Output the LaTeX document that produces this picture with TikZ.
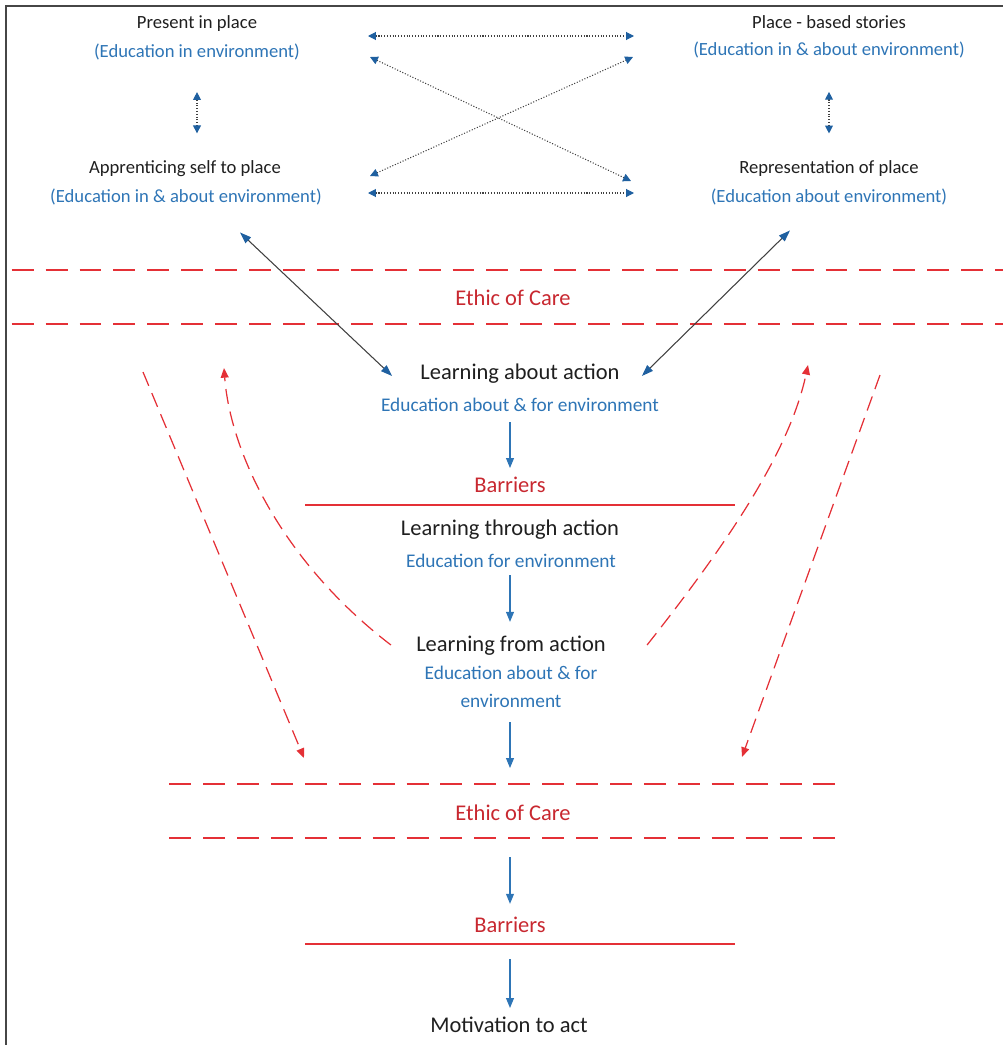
\documentclass[tikz,border=0pt]{standalone}
\usepackage{fontspec}
\setmainfont{Carlito}
\usepackage{xcolor}
\usetikzlibrary{arrows.meta,calc}

\definecolor{eduBlue}{RGB}{46,117,182}
\definecolor{headBlue}{RGB}{31,96,160}
\definecolor{careRed}{RGB}{200,40,48}
\definecolor{dashRed}{RGB}{228,48,54}
\definecolor{frameGray}{RGB}{70,70,70}

\tikzset{
  toptext/.style={font=\fontsize{10.6}{13}\selectfont, inner sep=0pt, text=black!88},
  topsub/.style={toptext, text=eduBlue},
  maintext/.style={font=\fontsize{12.8}{15}\selectfont, inner sep=0pt, text=black!88},
  subtext/.style={font=\fontsize{11}{16}\selectfont, inner sep=0pt, text=eduBlue, align=center},
  redtext/.style={font=\fontsize{12.8}{15}\selectfont, inner sep=0pt, text=careRed},
  bandbox/.style={inner sep=0pt, minimum height=30.5pt},
  carebar/.style={draw=dashRed, dash pattern=on 12.5pt off 6.8pt, line width=1.3pt},
  barline/.style={draw=dashRed, line width=0.9pt},
  flow/.style={-{Triangle[length=5.7pt,width=4.5pt]}, draw=eduBlue, line width=0.7pt},
  dotlink/.style={{Triangle[length=4.5pt,width=4.5pt,color=headBlue]}-{Triangle[length=4.5pt,width=4.5pt,color=headBlue]}, densely dotted, draw=black!75, line width=0.6pt},
  solidlink/.style={{Triangle[length=6.5pt,width=4.5pt,color=headBlue]}-{Triangle[length=6.5pt,width=4.5pt,color=headBlue]}, draw=black!75, line width=0.6pt},
  backloop/.style={-{Triangle[length=5.5pt,width=4.5pt]}, draw=dashRed, dash pattern=on 8.5pt off 4.5pt, line width=0.7pt}
}

\begin{document}
\begin{tikzpicture}[x=0.02cm, y=-0.02cm]
\useasboundingbox (0,0) rectangle (1003,1045);
% frame
\draw[frameGray, line width=1.3pt] (6,1045) -- (6,6) -- (1003,6);

% place blocks
\node[toptext] (present) at (197,24) {Present in place};
\node[topsub] (presentsub) at (197,52) {(Education in environment)};
\node[toptext] (apprent) at (185,169) {Apprenticing self to place};
\node[topsub] (apprentsub) at (186,197) {(Education in \& about environment)};
\node[toptext] (stories) at (829,22) {Place - based stories};
\node[topsub] (storiessub) at (829,50) {(Education in \& about environment)};
\node[toptext] (repr) at (829,169) {Representation of place};
\node[topsub] (reprsub) at (829,197) {(Education about environment)};

% links between the place blocks
\draw[dotlink, shorten <=18pt, shorten >=15.5pt] (presentsub.south) -- (presentsub.south |- apprent.north);
\draw[dotlink, shorten <=19pt, shorten >=15.5pt] (storiessub.south) -- (storiessub.south |- repr.north);
\coordinate (crossTL) at (368,36);
\coordinate (crossTR) at (634,36);
\coordinate (crossBL) at (368,193);
\coordinate (crossBR) at (634,193);
\coordinate (diagTL) at (370,57);
\coordinate (diagTR) at (633,57);
\coordinate (diagBL) at (370,176);
\coordinate (diagBR) at (631,181);
\draw[dotlink] (crossTL) -- (crossTR);
\draw[dotlink] (crossBL) -- (crossBR);
\draw[dotlink] (diagTL) -- (diagBR);
\draw[dotlink] (diagBL) -- (diagTR);

% ethic of care (top)
\node[bandbox, minimum width=564pt] (bandA) at (507.5,297) {};
\draw[carebar] (bandA.north west) -- (bandA.north east);
\draw[carebar] (bandA.south west) -- (bandA.south east);
\node[redtext] (careA) at (513,298) {Ethic of Care};

% action column
\node[maintext] (learnabout) at (520,374) {Learning about action};
\node[subtext] (aboutsub) at (520,405) {Education about \& for environment};
\node[redtext] (barrA) at (510,485) {Barriers};
\draw[barline] (305,505) -- (735,505);
\node[maintext] (through) at (510,530) {Learning through action};
\node[subtext] (throughsub) at (511,561) {Education for environment};
\node[maintext] (fromlbl) at (511,646) {Learning from action};
\node[subtext] (fromsub) at (511,687) {Education about \& for\\environment};

% ethic of care (bottom)
\node[bandbox, minimum width=383pt] (bandB) at (506,811) {};
\draw[carebar] (bandB.north west) -- (bandB.north east);
\draw[carebar] (bandB.south west) -- (bandB.south east);
\node[redtext] (careB) at (513,813) {Ethic of Care};
\node[redtext] (barrB) at (510,925) {Barriers};
\draw[barline] (305,944) -- (735,944);
\node[maintext] (motiv) at (509,1025) {Motivation to act};

% flow down the column
\draw[flow, shorten <=5.7pt, shorten >=5pt] (aboutsub.south -| barrA.north) -- (barrA.north);
\draw[flow, shorten <=4pt, shorten >=8pt] (throughsub.south -| barrA.north) -- (fromlbl.north -| barrA.north);
\draw[flow, shorten <=8pt, shorten >=9pt] (fromsub.south -| barrA.north) -- (bandB.north -| barrA.north);
\draw[flow, shorten <=10.8pt, shorten >=7.4pt] (bandB.south -| barrB.north) -- (barrB.north);
\draw[flow, shorten <=14.8pt, shorten >=5pt] (barrB.south) -- (barrB.south |- motiv.north);

% links from the place blocks
\draw[solidlink] ($(apprentsub.south)+(54,27)$) -- ($(learnabout.west)+(-28,2)$);
\draw[solidlink] ($(reprsub.south)+(-39,25)$) -- ($(learnabout.east)+(22,2)$);

% feedback loops
\coordinate (loopLtop) at (143,372);
\coordinate (loopLend) at (304,758);
\coordinate (loopRtop) at (880,375);
\coordinate (loopRend) at (742,757);
\coordinate (backL) at (224,368);
\coordinate (backR) at (808,365);
\draw[backloop] (loopLtop) -- (loopLend);
\draw[backloop] (loopRtop) -- (loopRend);
\draw[backloop] ($(fromlbl.west)+(-25,-1)$) .. controls (280,560) and (230,450) .. (backL);
\draw[backloop] ($(fromlbl.east)+(41,-1)$) .. controls (730,540) and (790,450) .. (backR);
\end{tikzpicture}
\end{document}
